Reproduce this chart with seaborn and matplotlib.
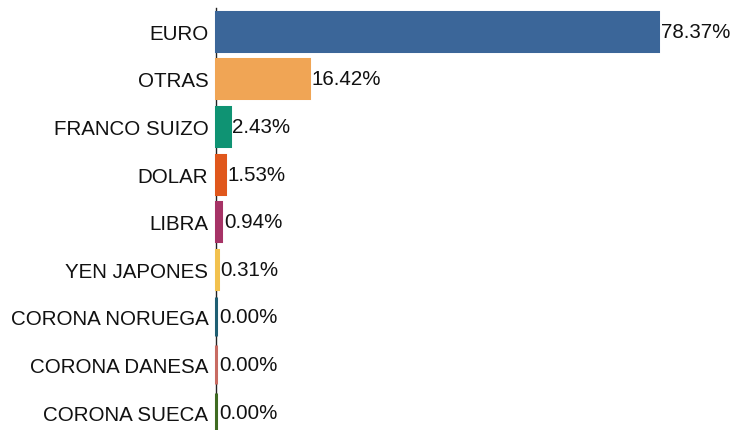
import matplotlib
matplotlib.use("Agg")
import matplotlib.pyplot as plt
import seaborn as sns
import pandas as pd

categories = ["EURO", "OTRAS", "FRANCO SUIZO", "DOLAR", "LIBRA", "YEN JAPONES",
              "CORONA NORUEGA", "CORONA DANESA", "CORONA SUECA"]
values = [78.37, 16.42, 2.43, 1.53, 0.94, 0.31, 0.00, 0.00, 0.00]
colors = ["#3b6699", "#f0a555", "#0f9373", "#e0571c", "#a63366", "#f2c14e",
          "#1f5f73", "#c86b62", "#3f6b22"]

sns.set_theme(style="white")
plt.rcParams["font.family"] = ["Liberation Sans", "DejaVu Sans"]

df = pd.DataFrame({"cat": categories, "val": values})

W, H = 731, 431
fig = plt.figure(figsize=(W / 100, H / 100), dpi=100)
left_px, top_px, bottom_px = 216, 8.5, 437.0
ax = fig.add_axes([left_px / W, (H - bottom_px) / H, (W - left_px) / W, (bottom_px - top_px) / H])

sns.barplot(data=df, x="val", y="cat", hue="cat", palette=colors, legend=False,
            orient="h", width=0.82, ax=ax, linewidth=2.2, saturation=1)
for p, c in zip(ax.patches, colors):
    p.set_edgecolor(c)
    p.set_clip_on(False)

ax.set_xlim(0, (W - left_px) / 5.64)
ax.set_ylim(len(categories) - 0.5, -0.5)

for cont in ax.containers:
    ax.bar_label(cont, labels=[f"{v:.2f}%" for v in cont.datavalues],
                 padding=2, fontsize=14.8, color="#111111")

ax.set_xlabel("")
ax.set_ylabel("")
ax.set_xticks([])
ax.tick_params(axis="y", labelsize=14.8, colors="#111111", length=0, pad=5.5)
for s in ["top", "right", "bottom"]:
    ax.spines[s].set_visible(False)
ax.spines["left"].set_color("#222222")
ax.spines["left"].set_linewidth(1.0)
ax.spines["left"].set_zorder(0)

fig.savefig("out.png", dpi=100)
